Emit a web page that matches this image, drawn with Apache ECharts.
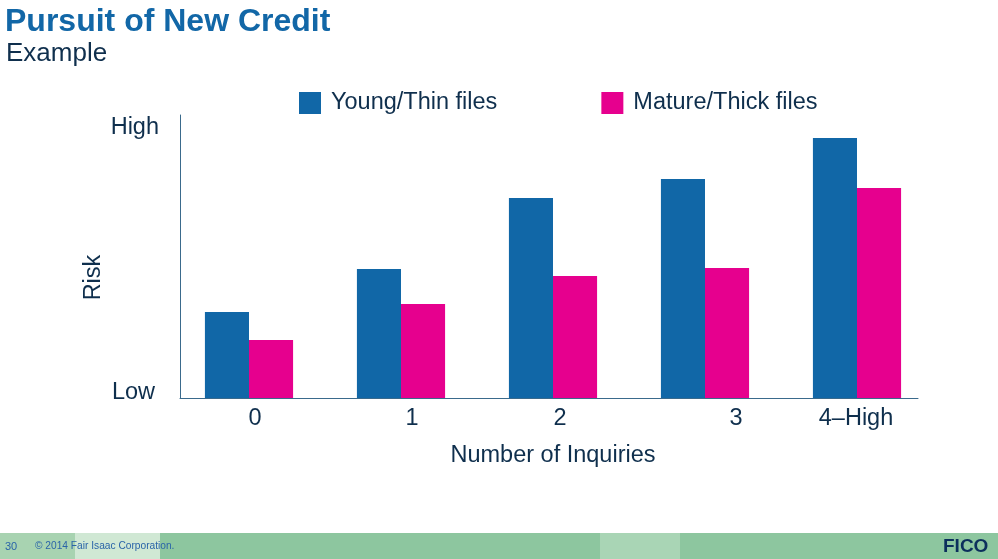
<!DOCTYPE html>
<html>
<head>
<meta charset="utf-8">
<script src="https://cdn.jsdelivr.net/npm/echarts@6/dist/echarts.min.js"></script>
<style>
html,body{margin:0;padding:0;background:#fff;}
#chart{width:998px;height:559px;}
</style>
</head>
<body>
<div id="chart"></div>
<script>
// ---- data ----
const categories = ['0', '1', '2', '3', '4–High'];
const youngThin = [30.4, 45.6, 70.7, 77.4, 91.9];
const matureThick = [20.5, 33.2, 43.1, 45.9, 74.2];
const seriesNames = ['Young/Thin files', 'Mature/Thick files'];
const riskLabels = ['Low', 'High'];

// ---- styling ----
const FONT = "'Liberation Sans', Arial, sans-serif";
const TEXT = '#0f2f4d';
const BLUE = '#1167a7';
const PINK = '#e6008e';
const AXIS = '#3a6a8c';
const FS = 23.5;
const labelShift = [6, 11, 7, 31, -1]; // horizontal nudge of tick labels (px)

const rich = {};
labelShift.forEach((s, i) => {
  rich['c' + i] = {
    fontSize: FS, fontFamily: FONT, color: TEXT,
    padding: s >= 0 ? [0, 0, 0, 2 * s] : [0, -2 * s, 0, 0]
  };
});

const chart = echarts.init(document.getElementById('chart'));
chart.setOption({
  animation: false,
  backgroundColor: '#ffffff',
  textStyle: { fontFamily: FONT },
  title: [
    { text: 'Pursuit of New Credit', left: 0, top: 1,
      textStyle: { fontSize: 32, fontWeight: 'bold', color: '#1267a7', fontFamily: FONT } },
    { text: 'Example', left: 1, top: 36,
      textStyle: { fontSize: 26, fontWeight: 'normal', color: TEXT, fontFamily: FONT } }
  ],
  legend: {
    left: 294, top: 86,
    itemWidth: 22, itemHeight: 22, itemGap: 104,
    icon: 'rect',
    data: seriesNames,
    textStyle: { fontSize: FS, color: TEXT, fontFamily: FONT, padding: [0, 0, 0, 5] }
  },
  grid: [
    { left: 173, top: 115, width: 760, height: 283 },
    { left: 180, top: 115, width: 738, height: 283 }
  ],
  xAxis: [
    {
      type: 'category', gridIndex: 0, data: categories,
      axisLine: { show: false }, axisTick: { show: false },
      axisLabel: {
        margin: 9,
        formatter: (v, i) => '{c' + i + '|' + v + '}',
        rich: rich
      },
      name: 'Number of Inquiries', nameLocation: 'middle', nameGap: 46,
      nameMoveOverlap: false,
      nameTextStyle: { fontSize: FS, color: TEXT, fontFamily: FONT }
    },
    {
      type: 'value', gridIndex: 1, min: 0, max: 1,
      axisLine: { show: true, lineStyle: { color: AXIS, width: 1 } },
      axisTick: { show: false }, axisLabel: { show: false }, splitLine: { show: false }
    }
  ],
  yAxis: [
    { type: 'value', gridIndex: 0, min: 0, max: 100, show: false, splitLine: { show: false } },
    {
      type: 'category', gridIndex: 1, data: riskLabels, boundaryGap: false,
      axisLine: { show: true, lineStyle: { color: AXIS, width: 1 } },
      axisTick: { show: false }, splitLine: { show: false },
      axisLabel: {
        margin: 21,
        formatter: (v) => v === 'High' ? '{h|' + v + '}' : '{l|' + v + '}',
        rich: {
          h: { fontSize: FS, color: TEXT, fontFamily: FONT, padding: [26, 0, 0, 0] },
          l: { fontSize: FS, color: TEXT, fontFamily: FONT, padding: [0, 4, 10, 0] }
        }
      },
      name: 'Risk', nameLocation: 'middle', nameGap: 74, nameRotate: 90,
      nameMoveOverlap: false,
      nameTextStyle: { fontSize: FS, color: TEXT, fontFamily: FONT, padding: [0, 42, 0, 0] }
    }
  ],
  series: [
    { name: seriesNames[0], type: 'bar', xAxisIndex: 0, yAxisIndex: 0, data: youngThin,
      itemStyle: { color: BLUE }, barGap: '0%', barCategoryGap: '42%' },
    { name: seriesNames[1], type: 'bar', xAxisIndex: 0, yAxisIndex: 0, data: matureThick,
      itemStyle: { color: PINK }, barGap: '0%', barCategoryGap: '42%' }
  ],
  graphic: [
    { type: 'rect', left: 0, top: 533, shape: { width: 998, height: 26 }, style: { fill: '#8dc69f' }, silent: true },
    { type: 'rect', left: 0, top: 533, shape: { width: 75, height: 26 }, style: { fill: '#a8d3b1' }, silent: true },
    { type: 'rect', left: 75, top: 533, shape: { width: 85, height: 26 }, style: { fill: '#d0e8d4' }, silent: true },
    { type: 'rect', left: 600, top: 533, shape: { width: 80, height: 26 }, style: { fill: '#a9d5b5' }, silent: true },
    { type: 'text', left: 5, top: 541, style: { text: '30', fontSize: 11, fill: '#2a64a8', fontFamily: FONT } },
    { type: 'text', left: 35, top: 541, style: { text: '© 2014 Fair Isaac Corporation.', fontSize: 10.2, fill: '#2a64a8', fontFamily: FONT } },
    { type: 'text', left: 943, top: 537, style: { text: 'FICO', fontSize: 19, fontWeight: 'bold', fill: '#0c2f5c', fontFamily: FONT } }
  ]
});
</script>
</body>
</html>
